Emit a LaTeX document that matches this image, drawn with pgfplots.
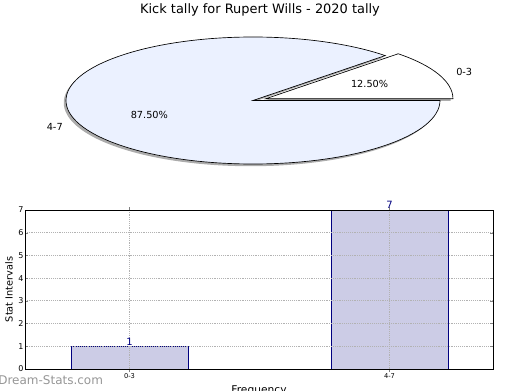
\documentclass[border=0pt]{standalone}
\usepackage{fontspec}
\setmainfont{DejaVu Sans}
\usepackage{pgfplots}
\usepackage{pgfplotstable}
\pgfplotsset{compat=1.18}
\definecolor{pieblue}{RGB}{235,241,255}
\definecolor{barfill}{RGB}{204,204,230}
\definecolor{baredge}{RGB}{0,0,128}
\definecolor{wmgray}{RGB}{150,150,150}

\pgfplotstableread{
idx label value
0 0-3 1
1 4-7 7
}\piedata

\begin{document}%
\begin{tikzpicture}
\pgfplotstablegetelem{0}{value}\of\piedata \let\va\pgfplotsretval
\pgfplotstablegetelem{1}{value}\of\piedata \let\vb\pgfplotsretval
\pgfmathsetmacro\angA{360*\va/(\va+\vb)}
\pgfmathsetmacro\midA{\angA/2}
\pgfmathsetmacro\midB{(\angA+360)/2}
\pgfmathsetmacro\pctA{100*\va/(\va+\vb)}
\pgfmathsetmacro\pctB{100*\vb/(\va+\vb)}
\pgfmathsetmacro\exdx{0.075*cos(\midA)}
\pgfmathsetmacro\exdy{0.075*sin(\midA)}
\pgfmathsetmacro\cA{cos(\angA)}
\pgfmathsetmacro\sA{sin(\angA)}
% title
\node[font=\fontsize{9.7}{11}\selectfont, anchor=center] at (195pt,285pt) {Kick tally for Rupert Wills - 2020 tally};

% pie chart
\begin{axis}[hide axis, x=140.25pt, y=47.625pt, xmin=-1.3, xmax=1.3, ymin=-1.3, ymax=1.3,
  anchor=origin, at={(189.75pt,217.125pt)}, clip=false]
  \addplot[draw=none, forget plot] coordinates {(0,0)};
  % shadows
  \fill[gray!65] (axis cs:-0.012,-0.035) -- (axis cs:{\cA-0.012},{\sA-0.035})
     arc[start angle=\angA, end angle=360, x radius=140.25pt, y radius=47.625pt] -- cycle;
  \fill[gray!65] (axis cs:{\exdx-0.012},{\exdy-0.035}) -- (axis cs:{1+\exdx-0.012},{\exdy-0.035})
     arc[start angle=0, end angle=\angA, x radius=140.25pt, y radius=47.625pt] -- cycle;
  % slices
  \filldraw[fill=pieblue, draw=black, line width=0.5pt] (axis cs:0,0) -- (axis cs:\cA,\sA)
     arc[start angle=\angA, end angle=360, x radius=140.25pt, y radius=47.625pt] -- cycle;
  \filldraw[fill=white, draw=black, line width=0.5pt] (axis cs:\exdx,\exdy) -- (axis cs:{1+\exdx},\exdy)
     arc[start angle=0, end angle=\angA, x radius=140.25pt, y radius=47.625pt] -- cycle;
  % labels
  \node[anchor=west, inner sep=0pt, font=\fontsize{7.3}{9}\selectfont] at (axis cs:{1.1*cos(\midA)+\exdx},{1.1*sin(\midA)+\exdy}) {0-3};
  \node[anchor=east, inner sep=0pt, font=\fontsize{7.3}{9}\selectfont] at (axis cs:{1.1*cos(\midB)},{1.1*sin(\midB)}) {4-7};
  \node[anchor=center, inner sep=0pt, font=\fontsize{7.3}{9}\selectfont] at (axis cs:{0.6*cos(\midA)+\exdx},{0.6*sin(\midA)+\exdy}) {\pgfmathprintnumber[fixed, fixed zerofill, precision=2, assume math mode=true]{\pctA}\%};
  \node[anchor=center, inner sep=0pt, font=\fontsize{7.3}{9}\selectfont] at (axis cs:{0.6*cos(\midB)},{0.6*sin(\midB)}) {\pgfmathprintnumber[fixed, fixed zerofill, precision=2, assume math mode=true]{\pctB}\%};
\end{axis}

% bar chart
\begin{axis}[
  at={(18.75pt,15.75pt)}, anchor=south west,
  scale only axis, width=351pt, height=119.25pt,
  xmin=-0.402, xmax=1.398, ymin=0, ymax=7,
  ytick={0,1,2,3,4,5,6,7},
  xtick={0,1}, xticklabels={0-3,4-7},
  /pgf/number format/assume math mode=true,
  yticklabel style={font=\fontsize{6}{7}\selectfont, inner sep=1pt},
  xticklabel style={font=\fontsize{5}{6}\selectfont, inner sep=1pt},
  grid=major,
  major grid style={densely dotted, gray!60, line width=0.6pt},
  major tick length=2pt,
  axis line style={black, line width=0.6pt},
  axis on top,
  ybar, bar width=87.75pt,
  nodes near coords,
  every node near coord/.append style={font=\fontsize{7.5}{8}\selectfont, text=baredge, inner sep=0.5pt},
  ylabel={Stat Intervals},
  every axis y label/.style={at={(axis description cs:-0.0342,0.5)}, rotate=90, anchor=center, font=\fontsize{7.3}{9}\selectfont},
  xlabel={Frequency},
  every axis x label/.style={at={(axis description cs:0.5,-0.1006)}, anchor=north, inner sep=0pt, font=\fontsize{8}{9}\selectfont},
]
\addplot[fill=barfill, draw=baredge, line width=0.6pt] table[x=idx, y=value] {\piedata};
\end{axis}

% watermark
\node[anchor=west, inner sep=0pt, text=wmgray, font=\fontsize{9}{10}\selectfont] at (-1.5pt,7.5pt) {Dream-Stats.com};

\pgfresetboundingbox
\path[use as bounding box] (0,0) rectangle (390pt,292.5pt);
\end{tikzpicture}%
\end{document}
